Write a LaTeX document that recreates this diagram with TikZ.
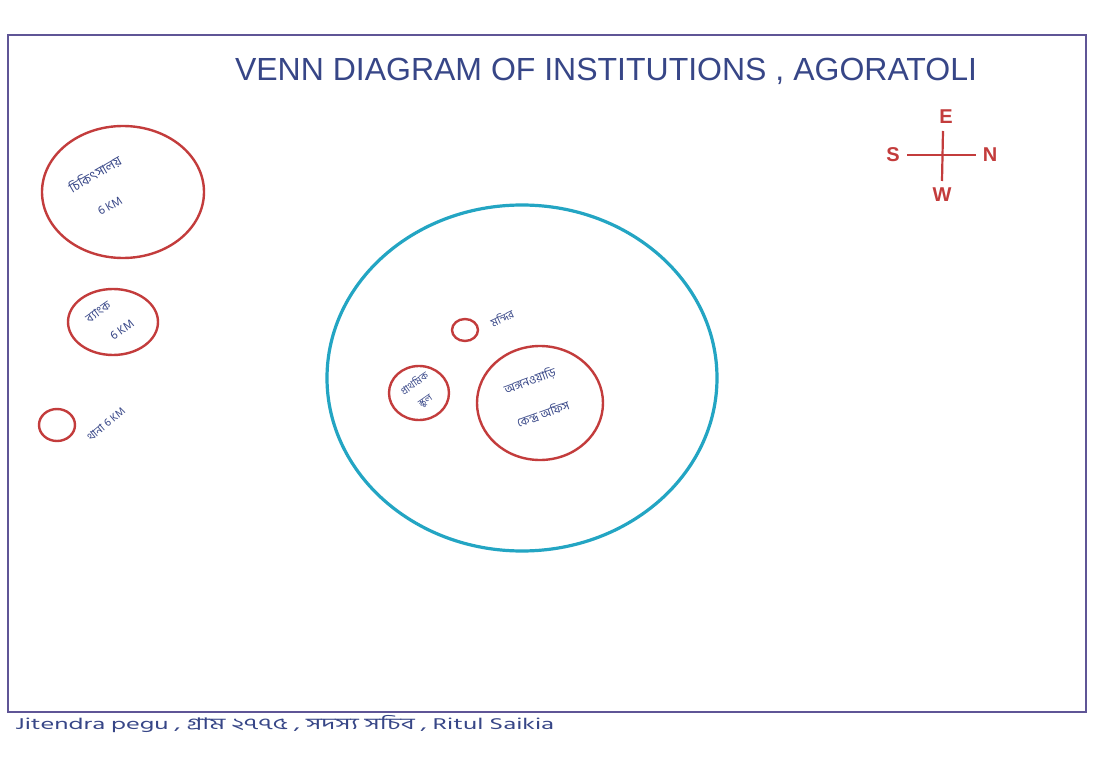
\documentclass[tikz,border=0pt]{standalone}
\usepackage{fontspec}
\setmainfont{Liberation Sans}
\newfontfamily\bn[Script=Bengali]{Hind Siliguri}
\definecolor{frameC}{RGB}{95,85,150}
\definecolor{redC}{RGB}{195,60,60}
\definecolor{cyanC}{RGB}{35,165,195}
\definecolor{inkC}{RGB}{55,70,135}
\begin{document}
\begin{tikzpicture}[x=1pt,y=-1pt,
  redring/.style={draw=redC,line width=2.4pt},
  bigring/.style={draw=cyanC,line width=3.2pt},
  lbl/.style={text=inkC,font=\bn\fontsize{12}{12}\selectfont,align=center,inner sep=0pt},
  dir/.style={text=redC,font=\fontsize{20}{20}\selectfont\bfseries,inner sep=0pt}]
\useasboundingbox (0,0) rectangle (1096,765);
\fill[white] (0,0) rectangle (1096,765);
% frame
\draw[frameC,line width=1.3pt] (8,35) -- (1086,35) -- (1086,712) -- (8,712) -- cycle;
% title
\node[text=inkC,font=\fontsize{32}{34}\selectfont,inner sep=0pt] (title) at (606,71) {VENN DIAGRAM OF INSTITUTIONS , AGORATOLI};
% compass
\draw[redC,line width=2.2pt] (907,155) -- (976,155);
\draw[redC,line width=2.2pt] (943,131) -- (942,181);
\node[dir] (S) at (893,155) {S};
\node[dir] (N) at (990,155) {N};
\node[dir] (E) at (946,117) {E};
\node[dir] (W) at (942,195) {W};
% outer circles
\draw[redring] (123,192) ellipse [x radius=81,y radius=66];
\node[lbl,rotate=30,font=\bn\fontsize{13}{13}\selectfont] (l1) at (95,174) {চিকিৎসালয়};
\node[lbl,rotate=30] (l1b) at (110,206) {6 KM};
\draw[redring] (113,322) ellipse [x radius=45,y radius=33];
\node[lbl,rotate=35] (l2) at (98,312) {ব্যাংক};
\node[lbl,rotate=35] (l2b) at (122,330) {6 KM};
\draw[redring] (57,425) ellipse [x radius=18,y radius=16];
\node[lbl,rotate=40,font=\bn\fontsize{11}{11}\selectfont] (l3) at (106,424) {থানা 6 KM};
% big cyan circle
\draw[bigring] (522,378) ellipse [x radius=195,y radius=173];
\draw[redring] (465,330) ellipse [x radius=13,y radius=11];
\node[lbl,rotate=25,font=\bn\fontsize{11}{11}\selectfont] (l4) at (502,318) {মন্দির};
\draw[redring] (419,393) ellipse [x radius=30,y radius=27];
\node[lbl,rotate=35,font=\bn\fontsize{10}{10}\selectfont] (l5) at (414,383) {প্রাথমিক};
\node[lbl,rotate=35,font=\bn\fontsize{10}{10}\selectfont] (l5b) at (426,402) {স্কুল};
\draw[redring] (540,403) ellipse [x radius=63,y radius=57];
\node[lbl,rotate=20] (l6) at (530,381) {অঙ্গনওয়াড়ি};
\node[lbl,rotate=20] (l6b) at (543,414) {কেন্দ্র অফিস};
% footer
\node[anchor=west,text=inkC,font=\bn\fontsize{16}{18}\selectfont,inner sep=0pt,xscale=1.65] (foot) at (15,724) {Jitendra pegu , গ্রাম ২৭৭৫ , সদস্য সচিব , Ritul Saikia};
\end{tikzpicture}
\end{document}
